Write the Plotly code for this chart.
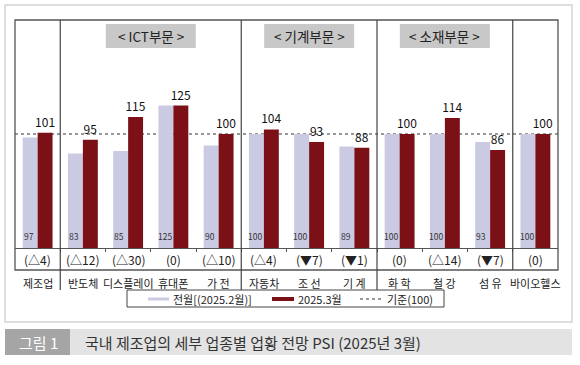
import plotly.graph_objects as go

categories = ["제조업", "반도체", "디스플레이", "휴대폰", "가 전", "자동차",
              "조 선", "기 계", "화 학", "철 강", "섬 유", "바이오헬스"]
prev_vals = [97, 83, 85, 125, 90, 100, 100, 89, 100, 100, 93, 100]
curr_vals = [101, 95, 115, 125, 100, 104, 93, 88, 100, 114, 86, 100]
changes = ["(△4)", "(△12)", "(△30)", "(0)", "(△10)", "(△4)",
           "(▼7)", "(▼1)", "(0)", "(△14)", "(▼7)", "(0)"]
sections = ["< ICT부문 >", "< 기계부문 >", "< 소재부문 >"]
section_spans = [(1, 4), (5, 7), (8, 10)]
divider_after = [0, 4, 7, 10]
baseline = 100
legend_names = ["전월[(2025.2월)]", "2025.3월", "기준(100)"]
caption_tag = "그림 1"
caption_text = "국내 제조업의 세부 업종별 업황 전망 PSI (2025년 3월)"

FONT = "Noto Sans CJK KR"
LIGHT = "#CBCAE3"
DARK = "#7B1116"
W, H = 580, 365
L, R, T, B = 15, 22, 20, 117
PW, PH = W - L - R, H - T - B
N = len(categories)


def px(x):
    return (x - L) / PW


def py(y):
    return (H - B - y) / PH


def cx(i):
    return (i + 0.5) / N


x = list(range(N))
fig = go.Figure()
fig.add_trace(go.Bar(x=x, y=prev_vals, marker=dict(color=LIGHT, line=dict(width=0)),
                     name=legend_names[0], showlegend=False))
fig.add_trace(go.Bar(x=x, y=curr_vals, marker=dict(color=DARK, line=dict(width=0)),
                     name=legend_names[1], showlegend=False,
                     text=[str(v) for v in curr_vals], textposition="outside",
                     constraintext="none",
                     textfont=dict(family=FONT, size=12, color="#111"), cliponaxis=False))

shapes = []
ann = []
# outer light frame
shapes.append(dict(type="rect", xref="paper", yref="paper", x0=px(5), x1=px(572),
                   y0=py(5), y1=py(322), line=dict(color="#D4D4D4", width=1.5)))
# plot frame
shapes.append(dict(type="rect", xref="paper", yref="paper", x0=0, x1=1,
                   y0=py(270), y1=1, line=dict(color="#555", width=1.3)))
# baseline dotted line
shapes.append(dict(type="line", xref="paper", yref="y", x0=0, x1=1, y0=baseline, y1=baseline,
                   line=dict(color="#333", width=1, dash="dot"), layer="below"))
# dividers
for k, d in enumerate(divider_after):
    xb = (d + 1) / N
    yend = 270 if k == len(divider_after) - 1 else 290
    shapes.append(dict(type="line", xref="paper", yref="paper", x0=xb, x1=xb,
                       y0=1, y1=py(yend), line=dict(color="#444", width=1.2)))
# section headers
for name, (a, b) in zip(sections, section_spans):
    c = (cx(a) + cx(b)) / 2
    shapes.append(dict(type="rect", xref="paper", yref="paper", x0=c - 45 / PW,
                       x1=c + 45 / PW, y0=py(48), y1=py(24),
                       fillcolor="#C8C8C8", line=dict(width=0)))
    ann.append(dict(text=name, xref="paper", yref="paper", x=c, y=py(36), showarrow=False,
                    font=dict(family=FONT, size=13.5, color="#222"), xanchor="center", yanchor="middle"))
# table row and category names, light labels
for i in range(N):
    ann.append(dict(text=changes[i], xref="paper", yref="paper", x=cx(i), y=py(259),
                    showarrow=False, font=dict(family=FONT, size=12, color="#222"),
                    xanchor="center", yanchor="middle"))
    ann.append(dict(text=categories[i], xref="paper", yref="paper", x=cx(i), y=py(283),
                    showarrow=False, font=dict(family=FONT, size=11, color="#222"),
                    xanchor="center", yanchor="middle", borderpad=0))
    ann.append(dict(text=str(prev_vals[i]), xref="x", yref="y", x=i - 0.17, y=0,
                    yanchor="bottom", yshift=4, xshift=-1, showarrow=False,
                    font=dict(family=FONT, size=8.5, color="#333")))
# legend
shapes.append(dict(type="rect", xref="paper", yref="paper", x0=px(127), x1=px(444),
                   y0=py(307), y1=py(290), line=dict(color="#444", width=1), fillcolor="white"))
ly = py(299)
shapes.append(dict(type="line", xref="paper", yref="paper", x0=px(148), x1=px(169), y0=ly, y1=ly,
                   line=dict(color=LIGHT, width=3)))
shapes.append(dict(type="line", xref="paper", yref="paper", x0=px(272), x1=px(294), y0=ly, y1=ly,
                   line=dict(color=DARK, width=4)))
shapes.append(dict(type="line", xref="paper", yref="paper", x0=px(360), x1=px(383), y0=ly, y1=ly,
                   line=dict(color="#333", width=1, dash="dot")))
for name, xs in zip(legend_names, [172, 297, 386]):
    ann.append(dict(text=name, xref="paper", yref="paper", x=px(xs), y=ly, showarrow=False,
                    xanchor="left", yanchor="middle", borderpad=0,
                    font=dict(family=FONT, size=11, color="#222")))
# caption
shapes.append(dict(type="rect", xref="paper", yref="paper", x0=px(5), x1=px(70),
                   y0=py(355), y1=py(329), fillcolor="#A5A5A5", line=dict(width=0)))
shapes.append(dict(type="rect", xref="paper", yref="paper", x0=px(70), x1=px(572),
                   y0=py(355), y1=py(329), fillcolor="#E3E3E3", line=dict(width=0)))
ann.append(dict(text=caption_tag, xref="paper", yref="paper", x=px(38), y=py(342), showarrow=False,
                xanchor="center", yanchor="middle", font=dict(family=FONT, size=15, color="white")))
ann.append(dict(text=caption_text, xref="paper", yref="paper", x=px(83), y=py(342), showarrow=False,
                xanchor="left", yanchor="middle", font=dict(family=FONT, size=15, color="#333")))

fig.update_layout(
    width=W, height=H, margin=dict(l=L, r=R, t=T, b=B),
    paper_bgcolor="white", plot_bgcolor="rgba(0,0,0,0)",
    barmode="group", bargap=0.34, bargroupgap=0,
    showlegend=False, shapes=shapes, annotations=ann,
    xaxis=dict(range=[-0.5, N - 0.5], tickvals=[i + 0.5 for i in range(N - 1)],
               showticklabels=False, ticks="outside", ticklen=3, tickcolor="#555",
               showline=True, linecolor="#555", linewidth=1.2, showgrid=False, zeroline=False,
               fixedrange=True),
    yaxis=dict(range=[0, 200], visible=False, showgrid=False, zeroline=False, fixedrange=True),
)
fig.write_html("out.html", config={"displayModeBar": False},
               post_script="document.body.style.margin='0px';document.body.style.padding='0px';")
